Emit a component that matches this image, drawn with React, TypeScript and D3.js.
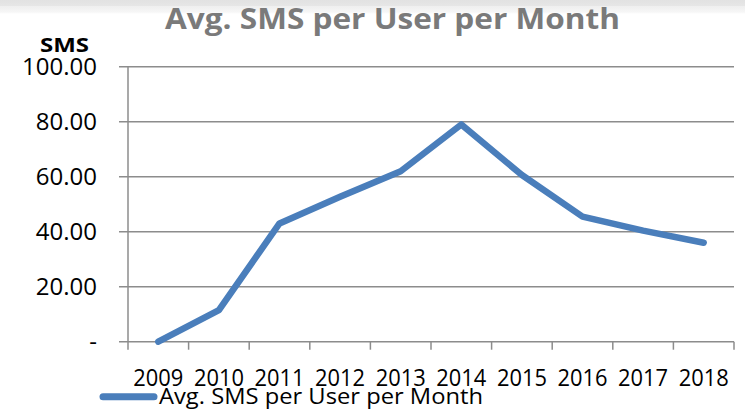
import React from 'react'
import * as d3 from 'd3'

const years = ['2009', '2010', '2011', '2012', '2013', '2014', '2015', '2016', '2017', '2018']
const smsValues = [0, 11.5, 43, 52.7, 62, 79, 60.6, 45.5, 40.4, 36]
const yTicks = [0, 20, 40, 60, 80, 100]
const seriesName = 'Avg. SMS per User per Month'

const W = 745
const H = 410
const font = "'Open Sans', 'Noto Sans', sans-serif"

export default function App() {
  const x = d3.scaleBand().domain(years).range([128, 734])
  const y = d3.scaleLinear().domain([0, 100]).range([341.7, 66.7])

  const line = d3
    .line<number>()
    .x((d, i) => (x(years[i]) as number) + x.bandwidth() / 2)
    .y((d) => y(d))

  const fmt = (v: number) => (v === 0 ? '-' : v.toFixed(2))
  const tickEdges = years.map((yr) => (x(yr) as number) + x.bandwidth())

  return (
    <svg width={W} height={H} style={{ position: 'absolute', left: 0, top: 0 }}>
      <defs>
        <linearGradient id="topband" x1="0" y1="0" x2="0" y2="1">
          <stop offset="0" stopColor="#e2e2e2" />
          <stop offset="0.4" stopColor="#e6e6e6" />
          <stop offset="0.45" stopColor="#efefef" />
          <stop offset="0.85" stopColor="#f6f6f6" />
          <stop offset="1" stopColor="#ffffff" />
        </linearGradient>
      </defs>
      <rect width={W} height={H} fill="#fff" />
      <rect width={W} height={14} fill="url(#topband)" />

      <text x={165} y={28.5} textLength={455} lengthAdjust="spacingAndGlyphs" fontFamily={font} fontWeight="bold" fontSize={29} fill="#7a7a7a">
        Avg. SMS per User per Month
      </text>
      <text x={40} y={52} textLength={49} lengthAdjust="spacingAndGlyphs" fontFamily={font} fontWeight="bold" fontSize={20} fill="#000">
        SMS
      </text>

      {/* gridlines + y ticks */}
      {yTicks.map((t) => (
        <g key={t}>
          <line x1={119} x2={734} y1={y(t)} y2={y(t)} stroke="#8c8c8c" strokeWidth={1.5} />
          <text x={97} y={y(t) + 8.7} textAnchor="end" fontFamily={font} fontSize={24} fill="#000">
            {fmt(t)}
          </text>
        </g>
      ))}
      <line x1={128} x2={128} y1={y(100)} y2={y(0) + 8} stroke="#8c8c8c" strokeWidth={1.5} />
      {tickEdges.map((e, i) => (
        <line key={i} x1={e} x2={e} y1={y(0)} y2={y(0) + 8} stroke="#8c8c8c" strokeWidth={1.5} />
      ))}

      {years.map((yr) => (
        <text
          key={yr}
          x={(x(yr) as number) + x.bandwidth() / 2}
          y={386}
          textAnchor="middle"
          textLength={50}
          lengthAdjust="spacingAndGlyphs"
          fontFamily={font}
          fontSize={24}
          fill="#000"
        >
          {yr}
        </text>
      ))}

      <path d={line(smsValues) as string} fill="none" stroke="#4a7ebb" strokeWidth={6.5} strokeLinecap="round" strokeLinejoin="round" />

      {/* legend */}
      <line x1={103} x2={154} y1={396.7} y2={396.7} stroke="#4a7ebb" strokeWidth={7} strokeLinecap="round" />
      <text x={159} y={404} textLength={324} lengthAdjust="spacingAndGlyphs" fontFamily={font} fontSize={22} fill="#000">
        {seriesName}
      </text>
    </svg>
  )
}
